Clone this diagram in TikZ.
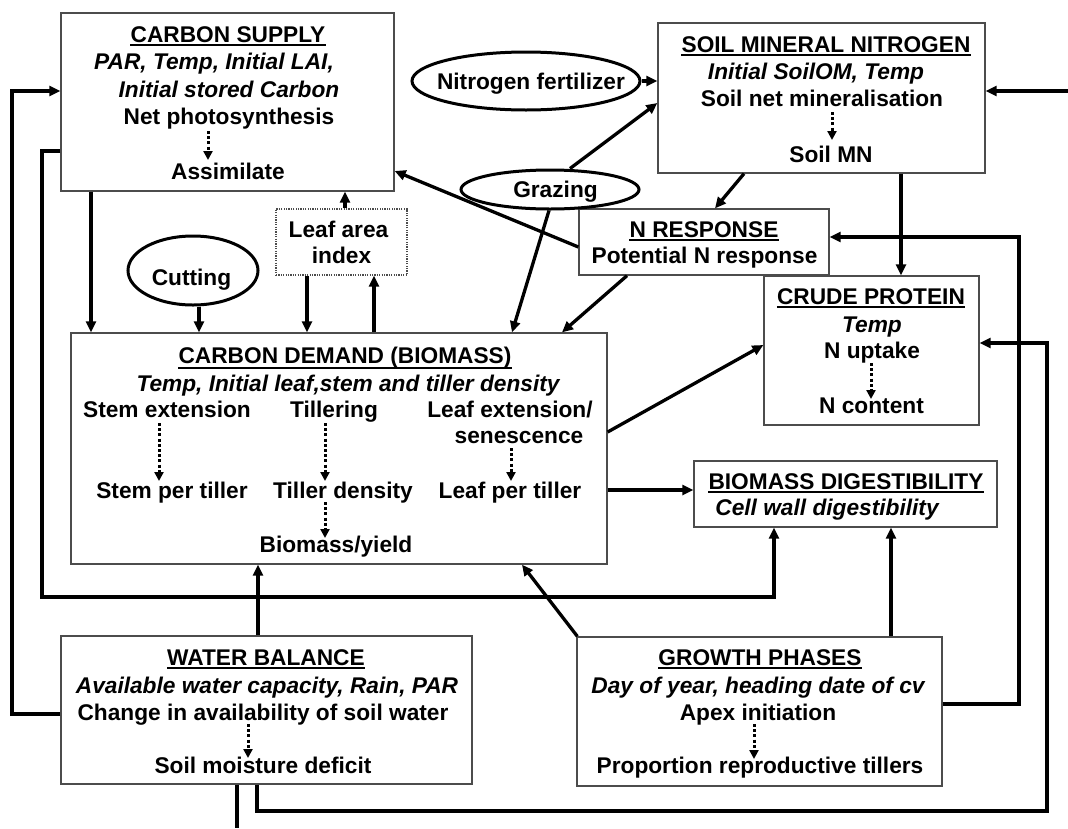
\documentclass[tikz,border=0pt]{standalone}
\usepackage{fontspec}
\setmainfont{Liberation Sans}
\usetikzlibrary{arrows.meta,shapes.geometric}
\begin{document}
\begin{tikzpicture}[x=1pt,y=-1pt,
  box/.style={draw=black!70, line width=1.3pt, inner sep=0pt, rectangle},
  dotbox/.style={box, dash pattern=on 1.2pt off 1.2pt},
  ell/.style={draw=black, ellipse, line width=3pt, inner sep=0pt},
  txt/.style={inner sep=0pt, anchor=base, font=\bfseries\fontsize{22.7}{27}\selectfont},
  itx/.style={inner sep=0pt, anchor=base, font=\bfseries\itshape\fontsize{22.7}{27}\selectfont},
  arr/.style={line width=3.3pt, -{Triangle[length=11pt,width=10pt]}},
  ln/.style={line width=3.3pt},
  dotarr/.style={line width=3pt, dash pattern=on 3pt off 2.2pt, -{Triangle[length=9pt,width=9pt]}},
  ul/.style={line width=2pt}
]
\fill[white] (0,0) rectangle (1068,828);
\useasboundingbox (0,0) rectangle (1068,828);

% ---------- boxes ----------
\node[box, minimum width=333pt, minimum height=178pt] (cs) at (227.5,102) {};
\node[box, minimum width=327pt, minimum height=150pt] (smn) at (821.5,98) {};
\node[dotbox, minimum width=131pt, minimum height=66pt] (lai) at (341.5,242) {};
\node[box, minimum width=250pt, minimum height=66pt] (nr) at (704,242) {};
\node[box, minimum width=536pt, minimum height=231pt] (cd) at (339,448.5) {};
\node[box, minimum width=215pt, minimum height=149pt] (cp) at (871.5,350.5) {};
\node[box, minimum width=303pt, minimum height=66pt] (bd) at (845.5,494) {};
\node[box, minimum width=411pt, minimum height=148pt] (wb) at (266.5,710) {};
\node[box, minimum width=365pt, minimum height=149pt] (gp) at (759.5,711.5) {};

% ---------- ellipses ----------
\node[ell, minimum width=228pt, minimum height=58pt] (nf) at (526,81) {};
\node[ell, minimum width=178pt, minimum height=39pt] (gr) at (550,189.5) {};
\node[ell, minimum width=130pt, minimum height=69pt] (cut) at (193,270.5) {};
\node[txt] (nft) at (531,89) {Nitrogen fertilizer};
\node[txt] (grt) at (555.5,197) {Grazing};
\node[txt] (cutt) at (191.5,285) {Cutting};

% ---------- carbon supply ----------
\node[txt] (cs1) at (228,42) {CARBON SUPPLY};
\draw[ul] ([yshift=-2.5pt]cs1.base west) -- ([yshift=-2.5pt]cs1.base east);
\node[itx] (cs2) at (214,69.5) {PAR, Temp, Initial LAI,};
\node[itx] (cs3) at (229,97) {Initial stored Carbon};
\node[txt] (cs4) at (229,124.5) {Net photosynthesis};
\node[txt] (cs5) at (228,179) {Assimilate};
\coordinate (d1s) at (208,131); \coordinate (d1e) at (208,160);
\draw[dotarr] (d1s) -- (d1e);

% ---------- soil mineral nitrogen ----------
\node[txt] (smn1) at (826,52) {SOIL MINERAL NITROGEN};
\draw[ul] ([yshift=-2.5pt]smn1.base west) -- ([yshift=-2.5pt]smn1.base east);
\node[itx] (smn2) at (816,79) {Initial SoilOM, Temp};
\node[txt] (smn3) at (822,106) {Soil net mineralisation};
\node[txt] (smn4) at (831,162) {Soil MN};
\coordinate (d2s) at (832,112); \coordinate (d2e) at (832,140);
\draw[dotarr] (d2s) -- (d2e);

% ---------- leaf area index ----------
\node[txt] (lai1) at (338.5,237) {Leaf area};
\node[txt] (lai2) at (341.5,263) {index};

% ---------- N response ----------
\node[txt] (nr1) at (704,237) {N RESPONSE};
\draw[ul] ([yshift=-2.5pt]nr1.base west) -- ([yshift=-2.5pt]nr1.base east);
\node[txt] (nr2) at (704.5,263) {Potential N response};

% ---------- carbon demand ----------
\node[txt] (cd1) at (345,363) {CARBON DEMAND (BIOMASS)};
\draw[ul] ([yshift=-5pt]cd1.base west) -- ([yshift=-5pt]cd1.base east);
\node[itx] (cd2) at (348,391) {Temp, Initial leaf,stem and tiller density};
\node[txt] (cd3) at (167,417) {Stem extension};
\node[txt] (cd4) at (334,417) {Tillering};
\node[txt] (cd5) at (510,417) {Leaf extension/};
\node[txt] (cd6) at (519,443) {senescence};
\node[txt] (cd7) at (172,498) {Stem per tiller};
\node[txt] (cd8) at (343,498) {Tiller density};
\node[txt] (cd9) at (510,498) {Leaf per tiller};
\node[txt] (cd10) at (336,552) {Biomass/yield};
\coordinate (d3s) at (159,423); \coordinate (d3e) at (159,481);
\coordinate (d4s) at (325,423); \coordinate (d4e) at (325,481);
\coordinate (d5s) at (511,448); \coordinate (d5e) at (511,481);
\coordinate (d6s) at (325,502); \coordinate (d6e) at (325,538);
\draw[dotarr] (d3s) -- (d3e);
\draw[dotarr] (d4s) -- (d4e);
\draw[dotarr] (d5s) -- (d5e);
\draw[dotarr] (d6s) -- (d6e);

% ---------- crude protein ----------
\node[txt] (cp1) at (871,304) {CRUDE PROTEIN};
\draw[ul] ([yshift=-2.5pt]cp1.base west) -- ([yshift=-2.5pt]cp1.base east);
\node[itx] (cp2) at (872,332) {Temp};
\node[txt] (cp3) at (872,358) {N uptake};
\node[txt] (cp4) at (871.5,413) {N content};
\coordinate (d7s) at (871,363); \coordinate (d7e) at (871,399);
\draw[dotarr] (d7s) -- (d7e);

% ---------- biomass digestibility ----------
\node[txt] (bd1) at (846,489) {BIOMASS DIGESTIBILITY};
\draw[ul] ([yshift=-2.5pt]bd1.base west) -- ([yshift=-2.5pt]bd1.base east);
\node[itx] (bd2) at (827,515) {Cell wall digestibility};

% ---------- water balance ----------
\node[txt] (wb1) at (266,665) {WATER BALANCE};
\draw[ul] ([yshift=-2.5pt]wb1.base west) -- ([yshift=-2.5pt]wb1.base east);
\node[itx] (wb2) at (267,693) {Available water capacity, Rain, PAR};
\node[txt] (wb3) at (263,720) {Change in availability of soil water};
\node[txt] (wb4) at (263,773) {Soil moisture deficit};
\coordinate (d8s) at (248,724); \coordinate (d8e) at (248,758);
\draw[dotarr] (d8s) -- (d8e);

% ---------- growth phases ----------
\node[txt] (gp1) at (760,665) {GROWTH PHASES};
\draw[ul] ([yshift=-2.5pt]gp1.base west) -- ([yshift=-2.5pt]gp1.base east);
\node[itx] (gp2) at (758,693) {Day of year, heading date of cv};
\node[txt] (gp3) at (758,720) {Apex initiation};
\node[txt] (gp4) at (760,773) {Proportion reproductive tillers};
\coordinate (d9s) at (754,724); \coordinate (d9e) at (754,759);
\draw[dotarr] (d9s) -- (d9e);

% ---------- helper coordinates ----------
\coordinate (c1) at (12,400);
\coordinate (c2) at (42,597);
\coordinate (c3) at (1019,400);
\coordinate (c4) at (1047,811);
\coordinate (c5) at (237,828);
\coordinate (re) at (1068,91);

% ---------- connectors ----------
\draw[arr] ([yshift=-4pt]wb.west) -| (c1) |- ([yshift=11pt]cs.west);
\draw[arr] ([yshift=-49pt]cs.west) -| (c2) -| ([xshift=-71.5pt]bd.south);
\draw[arr] ([xshift=-136.5pt]cs.south) -- ([xshift=-136.5pt]cs.south |- cd.north);
\draw[arr] ([xshift=6pt]cut.south) -- ([xshift=6pt]cut.south |- cd.north);
\draw[arr] ([xshift=3.5pt]lai.north) -- ([xshift=3.5pt]lai.north |- cs.south);
\draw[arr] ([xshift=-34.5pt]lai.south) -- ([xshift=-34.5pt]lai.south |- cd.north);
\draw[arr] ([xshift=35pt]cd.north) -- ([xshift=35pt]cd.north |- lai.south);
\draw[arr] (nf.east) -- (nf.east -| smn.west);
\draw[arr] ([xshift=20pt]gr.north) -- ([yshift=-5pt]smn.west);
\draw[arr] ([xshift=-1pt]gr.south) -- ([xshift=173pt]cd.north);
\draw[arr] ([yshift=-5pt]nr.west) -- ([yshift=-69pt]cs.east);
\draw[arr] ([xshift=-77.5pt]smn.south) -- ([xshift=11pt]nr.north);
\draw[arr] ([xshift=-77pt]nr.south) -- ([xshift=223pt]cd.north);
\draw[arr] ([xshift=79.5pt]smn.south) -- ([xshift=79.5pt]smn.south |- cp.north);
\draw[arr] (re) -- (re -| smn.east);
\draw[arr] ([yshift=7.5pt]gp.east) -| (c3) |- ([yshift=5pt]nr.east);
\draw[arr] ([xshift=-9.5pt]wb.south) |- (c4) |- ([yshift=7.5pt]cp.east);
\draw[ln] ([xshift=-29.5pt]wb.south) -- (c5);
\draw[arr] ([xshift=-8.5pt]wb.north) -- ([xshift=-8.5pt]wb.north |- cd.south);
\draw[arr] ([xshift=1pt]gp.north west) -- ([xshift=183pt]cd.south);
\draw[arr] ([xshift=131.5pt]gp.north) -- ([xshift=131.5pt]gp.north |- bd.south);
\draw[arr] ([yshift=16.5pt]cd.east) -- ([yshift=5.5pt]cp.west);
\draw[arr] ([yshift=-41.5pt]cd.east) -- ([yshift=-41.5pt]cd.east -| bd.west);
\end{tikzpicture}
\end{document}
